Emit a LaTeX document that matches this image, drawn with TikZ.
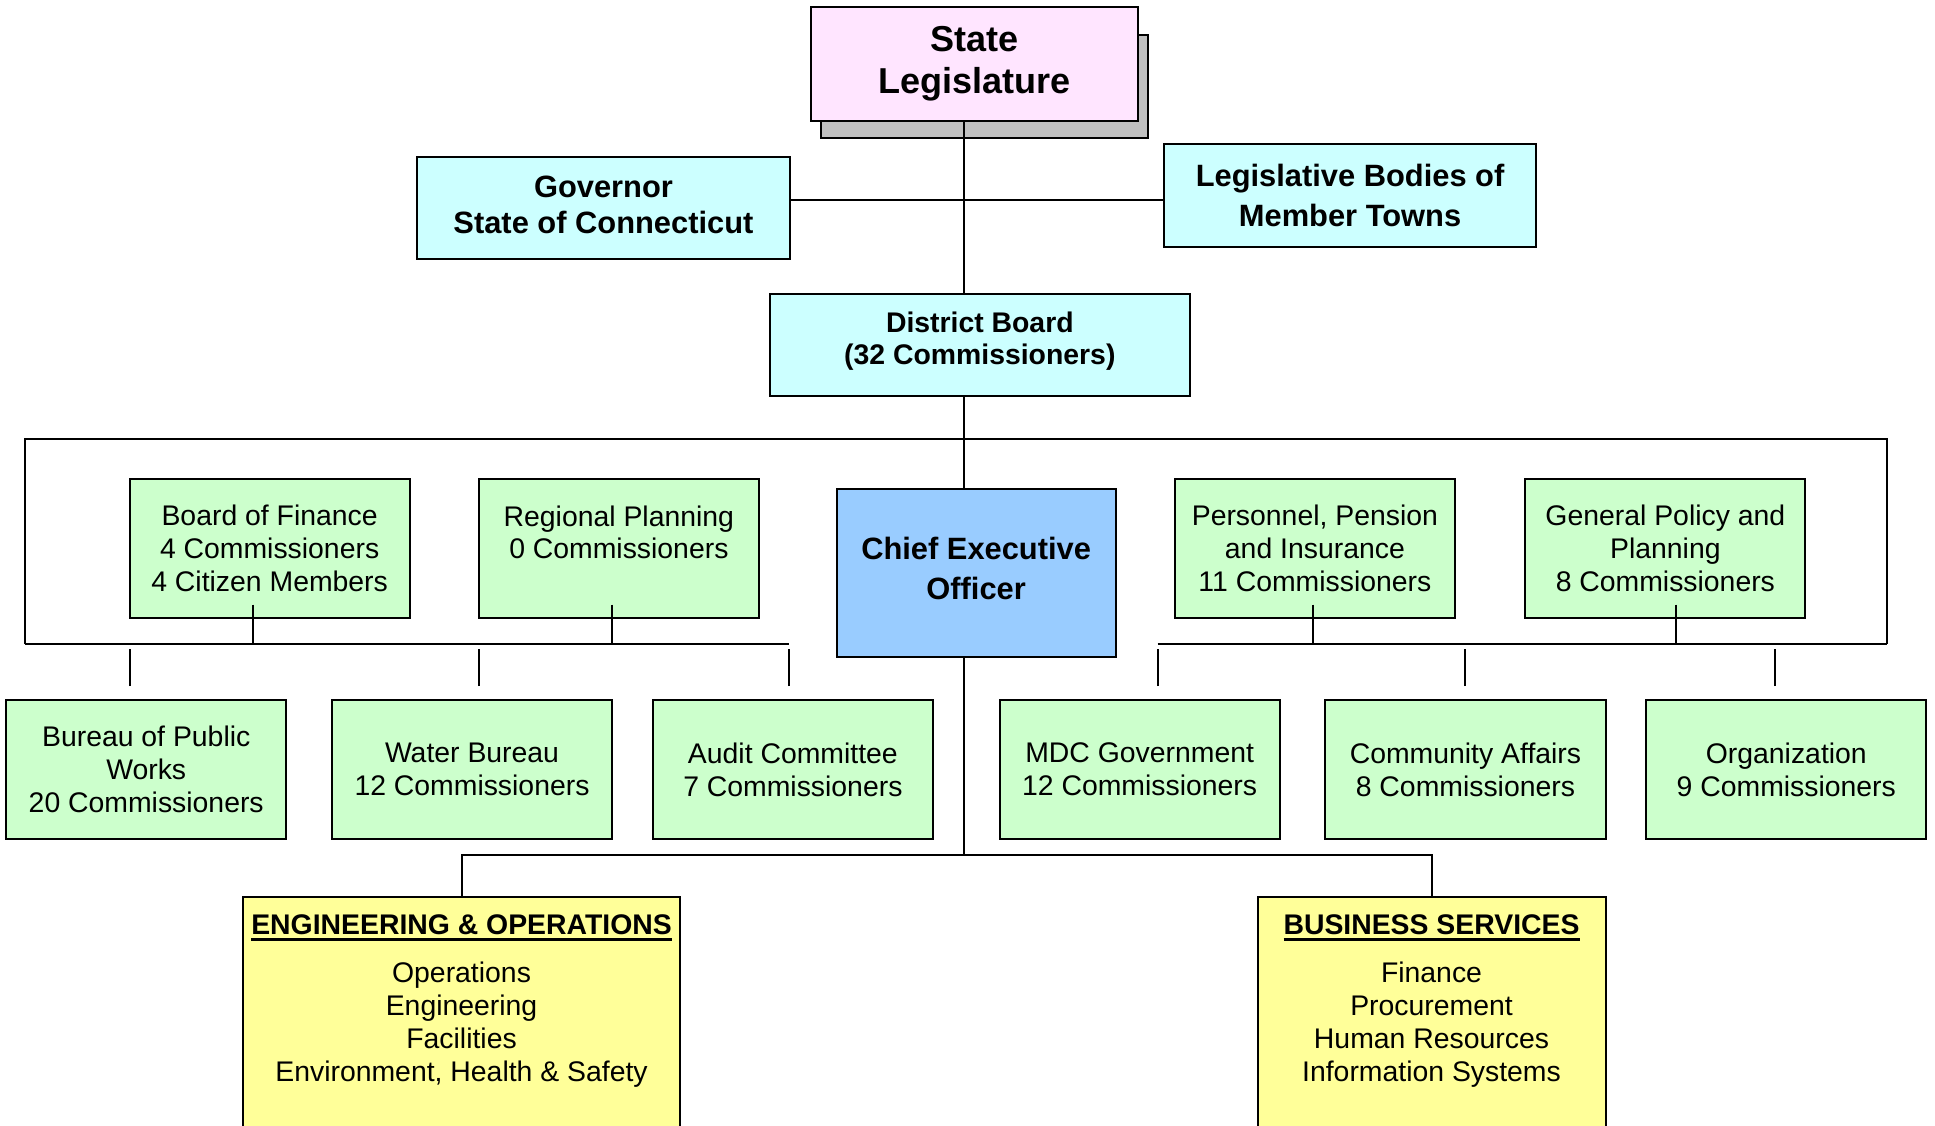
\documentclass[tikz,border=0pt]{standalone}
\usepackage{fontspec}
\setmainfont{Liberation Sans}

\definecolor{legispink}{HTML}{FFE5FF}
\definecolor{govcyan}{HTML}{CCFFFF}
\definecolor{cmtgreen}{HTML}{CCFFCC}
\definecolor{ceoblue}{HTML}{99CCFF}
\definecolor{deptyellow}{HTML}{FFFF99}
\definecolor{shadowgray}{HTML}{C0C0C0}

\newcommand{\ulhead}[1]{\setbox0\hbox{\bfseries #1}\rlap{\rule[-2.6pt]{\wd0}{1.1pt}}\box0}

\begin{document}
\begin{tikzpicture}[
		x=0.5pt, y=-0.5pt,
		every node/.style={draw, line width=0.8pt, inner sep=0pt, outer sep=0pt, align=center},
		greenbox/.style={fill=cmtgreen, minimum width=113.5pt, minimum height=56.5pt, font=\fontsize{11.5}{13.3}\selectfont},
		cyanbox/.style={fill=govcyan, minimum width=151pt, minimum height=41.5pt, font=\bfseries\fontsize{12.5}{14.5}\selectfont},
		deptbox/.style={fill=deptyellow, anchor=north, inner ysep=7pt, text depth=150pt, font=\fontsize{11.5}{13.35}\selectfont},
		line/.style={line width=0.8pt}
		]
		\useasboundingbox (0,0) rectangle (1568,912);
		
		% Top
		\draw[line, fill=shadowgray] (665,28) rectangle (930,112);
		\node[fill=legispink, minimum width=132.5pt, minimum height=46pt, font=\bfseries\fontsize{14.6}{17}\selectfont] (legis) at (789.5,52) {State\\Legislature};
		\node[cyanbox, text depth=2.5pt] (gov) at (489,168.5) {Governor\\State of Connecticut};
		\node[cyanbox, font=\bfseries\fontsize{12.5}{16.5}\selectfont] (towns) at (1094,158.5) {Legislative Bodies of\\Member Towns};
		\node[cyanbox, minimum width=170pt, text depth=5.4pt, font=\bfseries\fontsize{11.5}{13}\selectfont] (board) at (794,279.5) {District Board\\(32 Commissioners)};
		\node[fill=ceoblue, minimum width=113pt, minimum height=68pt, text depth=3.5pt, font=\bfseries\fontsize{12.5}{16.5}\selectfont] (ceo) at (791,464) {Chief Executive\\Officer};
		
		% Committees
		\node[greenbox] (finance) at (218.5,444.5) {Board of Finance\\4 Commissioners\\4 Citizen Members};
		\node[greenbox] (regional) at (501.5,444.5) {Regional Planning\\0 Commissioners\\\mbox{}};
		\node[greenbox] (personnel) at (1065.5,444.5) {Personnel, Pension\\and Insurance\\11 Commissioners};
		\node[greenbox] (policy) at (1349.5,444.5) {General Policy and\\Planning\\8 Commissioners};
		\node[greenbox] (bureau) at (118.5,623.5) {Bureau of Public\\Works\\20 Commissioners};
		\node[greenbox] (water) at (382.5,623.5) {Water Bureau\\12 Commissioners};
		\node[greenbox] (audit) at (642.5,623.5) {Audit Committee\\7 Commissioners};
		\node[greenbox] (mdc) at (923.5,623.5) {MDC Government\\12 Commissioners};
		\node[greenbox] (community) at (1187.5,623.5) {Community Affairs\\8 Commissioners};
		\node[greenbox] (organization) at (1447.5,623.5) {Organization\\9 Commissioners};
		
		% Departments
		\node[deptbox, minimum width=177pt] (eng) at (374,727) {\ulhead{ENGINEERING \& OPERATIONS}\\[6.15pt]Operations\\Engineering\\Facilities\\Environment, Health \& Safety};
		\node[deptbox, minimum width=141pt] (business) at (1160,727) {\ulhead{BUSINESS SERVICES}\\[6.15pt]Finance\\Procurement\\Human Resources\\Information Systems};
		
		% Lines
		\coordinate (spine) at (781,162);
		\coordinate (barL) at (20,522);
		\coordinate (barR) at (1529,522);
		\coordinate (barLend) at (639,522);
		\coordinate (barRstart) at (938,522);
		\coordinate (split) at (781,693);
		\draw[line] (legis.south -| spine) -- (board.north -| spine);
		\draw[line] (gov.east |- spine) -- (towns.west |- spine);
		\draw[line] (board.south -| spine) -- (ceo.north -| spine);
		\draw[line] (barL) |- (781,356) -| (barR);
		\draw[line] (barL) -- (barLend);
		\draw[line] (barRstart) -- (barR);
		\foreach \n/\dx in {finance/-6.75, regional/-2.75, personnel/-0.75, policy/4.25}
			\draw[line] ([xshift=\dx pt, yshift=5.5pt]\n.south) -- ++(0,32);
		\foreach \n/\dx in {bureau/-6.75, water/2.75, audit/-1.75, mdc/7.25, community/-0.25, organization/-4.75}
			\draw[line] ([xshift=\dx pt, yshift=5.5pt]\n.north) -- ++(0,-30);
		\draw[line] (ceo.south -| split) -- (split);
		\draw[line] (eng.north) |- (split) -| (business.north);
	\end{tikzpicture}
\end{document}
